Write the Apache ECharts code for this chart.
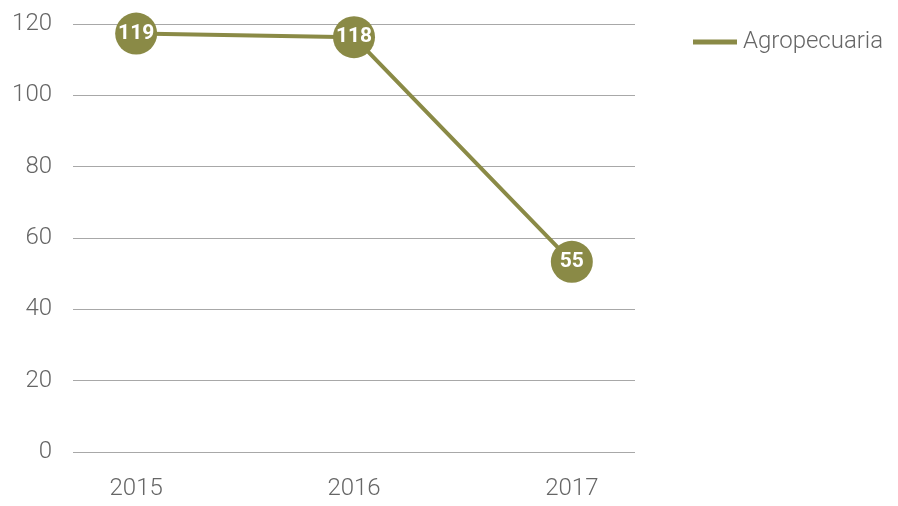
<!DOCTYPE html>
<html>
<head>
<meta charset="utf-8">
<script src="https://cdn.jsdelivr.net/npm/echarts@6/dist/echarts.min.js"></script>
<style>
  html, body { margin: 0; padding: 0; background: #fff; }
  #chart { width: 898px; height: 506px; }
</style>
</head>
<body>
<div id="chart"></div>
<script>
// data
const years = ['2015', '2016', '2017']
const agropecuaria = [119, 118, 55]
const yTicks = [0, 20, 40, 60, 80, 100, 120]

const lineColor = '#8a8a46'
const textColor = '#666'

const chart = echarts.init(document.getElementById('chart'))

const option = {
  animation: false,
  textStyle: { fontFamily: 'Roboto' },
  legend: {
    left: 688,
    top: 25,
    icon: 'rect',
    itemWidth: 44,
    itemHeight: 5,
    textStyle: { color: textColor, fontSize: 24, fontWeight: 300, padding: [0, 0, 0, 1] },
    data: ['Agropecuaria']
  },
  grid: [
    // axes + gridlines
    { left: 73, right: 263, top: 24, bottom: 54 },
    // data layer, the original plots its points a few px below the scale
    { left: 73, right: 263, top: 30, bottom: 48 }
  ],
  xAxis: [
    {
      gridIndex: 0,
      type: 'value',
      min: -0.29,
      max: 2.29,
      axisLine: { show: false },
      axisTick: { show: false },
      splitLine: { show: false },
      axisLabel: {
        customValues: years.map((y, i) => i),
        formatter: v => years[v],
        color: textColor,
        fontSize: 24,
        fontWeight: 300,
        margin: 25
      }
    },
    {
      gridIndex: 1,
      type: 'value',
      min: -0.29,
      max: 2.29,
      show: false
    }
  ],
  yAxis: [
    {
      gridIndex: 0,
      type: 'value',
      min: yTicks[0],
      max: yTicks[yTicks.length - 1],
      interval: 20,
      axisLine: { show: false },
      axisTick: { show: false },
      axisLabel: { color: textColor, fontSize: 24, fontWeight: 300, margin: 21 },
      splitLine: { lineStyle: { color: '#a8a8a8', width: 1 } }
    },
    {
      gridIndex: 1,
      type: 'value',
      min: yTicks[0],
      max: yTicks[yTicks.length - 1],
      show: false
    }
  ],
  series: [
    {
      name: 'Agropecuaria',
      type: 'line',
      xAxisIndex: 1,
      yAxisIndex: 1,
      data: agropecuaria.map((v, i) => [i, v]),
      color: lineColor,
      lineStyle: { color: lineColor, width: 4 },
      symbol: 'circle',
      symbolSize: 42,
      itemStyle: { color: lineColor },
      label: {
        show: true,
        position: 'inside',
        color: '#fff',
        fontSize: 21,
        fontWeight: 'bold',
        fontFamily: 'Roboto',
        formatter: p => p.value[1]
      }
    }
  ]
}

chart.setOption(option)
</script>
</body>
</html>
